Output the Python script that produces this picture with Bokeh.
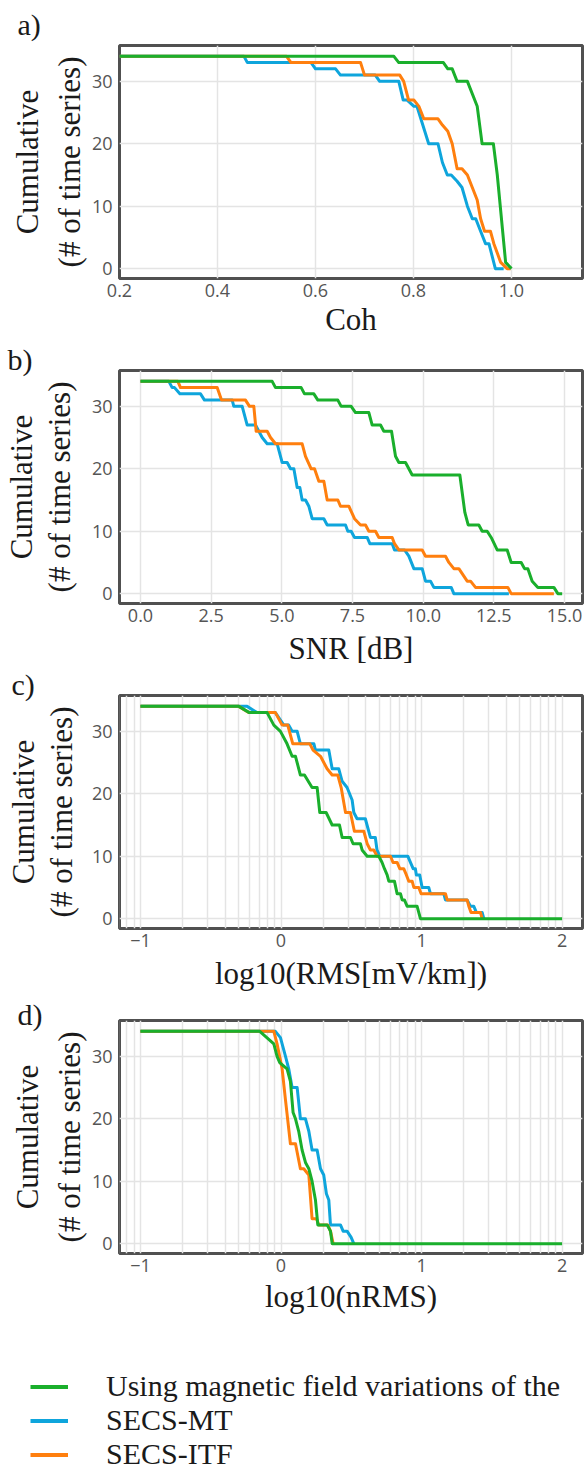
import math
from bokeh.plotting import figure
from bokeh.models import Range1d, FixedTicker, LinearAxis, Legend, LegendItem
from bokeh.layouts import column
from bokeh.embed import file_html
from bokeh.resources import INLINE

# ---------------- data ----------------
series_names = ["Using magnetic field variations of the", "SECS-MT", "SECS-ITF"]

# a) Coh
coh_green_x = [0.2, 0.760, 0.770, 0.861, 0.870, 0.879, 0.889, 0.910, 0.930, 0.940, 0.963, 0.971, 0.988, 1.0]
coh_green_y = [34, 34, 33, 33, 32, 32, 30, 30, 26, 20, 20, 15, 1, 0]
coh_blue_x = [0.2, 0.454, 0.461, 0.591, 0.600, 0.641, 0.651, 0.722, 0.731, 0.770, 0.779, 0.787, 0.801, 0.807,
              0.831, 0.850, 0.859, 0.869, 0.877, 0.889, 0.899, 0.910, 0.920, 0.927, 0.937, 0.947, 0.954, 0.967, 0.984]
coh_blue_y = [34, 34, 33, 33, 32, 32, 31, 31, 30, 30, 27, 27, 26, 26, 20, 20, 17, 15, 15, 14, 13, 10, 8, 8, 6, 4, 4, 0, 0]
coh_orange_x = [0.2, 0.541, 0.550, 0.692, 0.700, 0.772, 0.780, 0.790, 0.801, 0.811, 0.821, 0.850, 0.859, 0.870,
                0.879, 0.889, 0.899, 0.910, 0.920, 0.930, 0.937, 0.945, 0.957, 0.964, 0.978, 0.991, 0.998]
coh_orange_y = [34, 34, 33, 33, 31, 31, 30, 27, 27, 26, 24, 24, 23, 22, 20, 16, 16, 15, 13, 11, 8, 6, 6, 4, 1, 0, 0]

# b) SNR [dB]
snr_green_x = [0, 4.658, 4.776, 5.684, 5.802, 6.132, 6.274, 6.981, 7.099, 7.453, 7.606, 8.078, 8.196, 8.491,
               8.608, 8.880, 9.021, 9.139, 9.375, 9.611, 11.297, 11.474, 11.592, 11.969, 12.087, 12.264, 12.406,
               12.618, 12.972, 13.113, 13.467, 13.585, 13.703, 13.856, 14.057, 14.623, 14.764, 14.917]
snr_green_y = [34, 34, 33, 33, 32, 32, 31, 31, 30, 30, 29, 29, 27, 27, 26, 26, 22, 21, 21, 19, 19, 13, 11, 11,
               10, 10, 9, 7, 7, 5, 5, 4, 4, 2, 1, 1, 0, 0]
snr_blue_x = [0, 1.002, 1.120, 1.203, 1.392, 2.123, 2.264, 3.243, 3.302, 3.597, 3.774, 4.068, 4.186, 4.304,
              4.481, 4.835, 5.012, 5.189, 5.307, 5.425, 5.542, 5.637, 5.719, 5.837, 5.955, 6.073, 6.486, 6.604,
              7.252, 7.335, 7.453, 7.571, 8.019, 8.113, 8.903, 8.986, 9.340, 9.493, 9.670, 9.965, 10.083,
              10.259, 10.377, 10.991, 11.085, 13.031]
snr_blue_y = [34, 34, 33, 33, 32, 32, 31, 31, 30, 30, 27, 27, 26, 25, 24, 24, 21, 21, 20, 20, 17, 17, 15, 15,
              14, 12, 12, 11, 11, 10, 10, 9, 9, 8, 8, 7, 7, 6, 4, 4, 2, 2, 1, 1, 0, 0]
snr_orange_x = [0, 1.321, 1.415, 2.712, 2.866, 3.715, 3.856, 4.009, 4.092, 4.481, 4.599, 4.776, 5.719, 5.837,
                6.038, 6.156, 6.309, 6.486, 6.604, 6.981, 7.075, 7.370, 7.571, 7.783, 7.960, 8.078, 8.314,
                8.432, 8.903, 8.986, 9.139, 9.965, 10.083, 10.790, 10.908, 11.085, 11.262, 11.557, 11.675,
                11.851, 12.995, 13.113, 14.623]
snr_orange_y = [34, 34, 33, 33, 31, 31, 30, 30, 26, 26, 25, 24, 24, 22, 20, 20, 18, 18, 15, 15, 14, 14, 12,
                11, 11, 10, 10, 9, 9, 8, 7, 7, 6, 6, 5, 4, 4, 2, 2, 1, 1, 0, 0]

# c) log10(RMS[mV/km])
rms_green_x = [-1, -0.300, -0.225, -0.099, -0.051, -0.004, 0.043, 0.079, 0.103, 0.138, 0.167, 0.221, 0.257,
               0.276, 0.321, 0.364, 0.416, 0.435, 0.494, 0.513, 0.565, 0.577, 0.613, 0.696, 0.719, 0.736,
               0.755, 0.767, 0.807, 0.826, 0.850, 0.862, 0.878, 0.897, 0.968, 0.992, 2.0]
rms_green_y = [34, 34, 33, 33, 31, 30, 28, 26, 26, 23, 23, 21, 21, 17, 17, 15, 15, 13, 13, 12, 12, 11, 10,
               10, 9, 8, 7, 6, 6, 4, 4, 3, 3, 2, 2, 0, 0]
rms_blue_x = [-1, -0.241, -0.170, -0.040, 0.020, 0.055, 0.079, 0.115, 0.138, 0.234, 0.245, 0.340, 0.364,
              0.411, 0.435, 0.470, 0.506, 0.518, 0.541, 0.600, 0.612, 0.636, 0.671, 0.683, 0.702, 0.902,
              0.921, 0.940, 0.956, 0.963, 0.987, 1.004, 1.051, 1.063, 1.158, 1.170, 1.324, 1.348, 1.371,
              1.390, 1.431, 1.443]
rms_blue_y = [34, 34, 33, 33, 31, 31, 30, 30, 28, 28, 27, 27, 24, 24, 22, 21, 19, 17, 16, 16, 15, 13, 13,
              11, 10, 10, 9, 8, 8, 7, 7, 5, 5, 4, 4, 3, 3, 2, 2, 1, 1, 0]
rms_orange_x = [-1, -0.30, -0.23, -0.040, 0.008, 0.048, 0.084, 0.205, 0.228, 0.281, 0.328, 0.364, 0.404,
                0.428, 0.459, 0.494, 0.522, 0.589, 0.613, 0.636, 0.660, 0.684, 0.779, 0.797, 0.826, 0.845,
                0.873, 0.892, 0.909, 0.933, 0.945, 0.980, 0.997, 1.170, 1.182, 1.324, 1.336, 1.352, 1.419, 1.431]
rms_orange_y = [34, 34, 33, 33, 31, 31, 28, 28, 27, 26, 24, 23, 23, 21, 17, 17, 14, 14, 12, 11, 11, 10, 10,
                9, 9, 8, 8, 7, 6, 6, 5, 5, 4, 4, 3, 3, 2, 1, 1, 0]

# d) log10(nRMS)
nrms_green_x = [-1, -0.151, -0.051, -0.028, -0.009, 0.043, 0.067, 0.086, 0.103, 0.126, 0.150, 0.174, 0.198,
                0.221, 0.245, 0.262, 0.328, 0.352, 0.364, 2.0]
nrms_green_y = [34, 34, 32, 30, 29, 28, 26, 21, 20, 18, 15, 13, 12, 10, 7, 3, 3, 2, 0, 0]
nrms_blue_x = [-1, -0.040, -0.004, 0.032, 0.055, 0.079, 0.115, 0.138, 0.174, 0.198, 0.221, 0.257, 0.281,
               0.304, 0.323, 0.340, 0.352, 0.423, 0.442, 0.470, 0.499, 0.518]
nrms_blue_y = [34, 34, 33, 30, 28, 25, 25, 20, 20, 18, 15, 15, 12, 11, 8, 7, 3, 3, 2, 2, 1, 0]
nrms_orange_x = [-1, -0.051, -0.028, 0.008, 0.032, 0.067, 0.103, 0.138, 0.162, 0.198, 0.221, 0.252, 0.269,
                 0.333, 0.352, 0.371]
nrms_orange_y = [34, 34, 32, 28, 23, 16, 16, 12, 12, 11, 4, 4, 3, 3, 2, 0]

# ticks
y_ticks = [0, 10, 20, 30]
coh_ticks = [0.2, 0.4, 0.6, 0.8, 1.0]
coh_tick_labels = ["0.2", "0.4", "0.6", "0.8", "1.0"]
snr_ticks = [0, 2.5, 5, 7.5, 10, 12.5, 15]
snr_tick_labels = ["0.0", "2.5", "5.0", "7.5", "10.0", "12.5", "15.0"]
log_ticks = [-1, 0, 1, 2]
log_tick_labels = ["\u22121", "0", "1", "2"]
log_minor_ticks = [d + math.log10(k) for d in (-2, -1, 0, 1) for k in range(2, 10)]

# ---------------- styling ----------------
GREEN = "#1aaf2c"
BLUE = "#0ea5dc"
ORANGE = "#ff7f0e"
SERIF = "Liberation Serif"
TXT = "#1a1a1a"
GRID = "#e4e4e4"
W = 584


def style_label(ax, size="31px"):
    ax.axis_label_text_font = SERIF
    ax.axis_label_text_font_size = size
    ax.axis_label_text_font_style = "normal"
    ax.axis_label_text_color = TXT


def panel(height, top, bottom, xr, ticks, labels, minor, lines, letter, letter_offset, letter_standoff,
          ystand, xlabel, xstand):
    p = figure(width=W, height=height, output_backend="svg", toolbar_location=None,
               x_range=Range1d(*xr), y_range=Range1d(-1.58, 35.74), title=letter,
               min_border_left=119, min_border_right=2, min_border_top=top, min_border_bottom=bottom)
    p.background_fill_color = "white"
    p.border_fill_color = "white"
    p.outline_line_color = "#505050"
    p.outline_line_width = 3
    # panel letter
    p.title.align = "left"
    p.title.offset = letter_offset
    p.title.standoff = letter_standoff
    p.title.text_font = SERIF
    p.title.text_font_size = "30px"
    p.title.text_font_style = "normal"
    p.title.text_color = TXT
    # axes
    p.xaxis.ticker = FixedTicker(ticks=ticks, minor_ticks=minor)
    p.yaxis.ticker = FixedTicker(ticks=y_ticks)
    p.xaxis.major_label_overrides = {t: s for t, s in zip(ticks, labels)}
    for ax in (p.xaxis[0], p.yaxis[0]):
        ax.axis_line_color = None
        ax.major_tick_line_color = None
        ax.minor_tick_line_color = None
        ax.major_tick_out = 0
        ax.major_tick_in = 0
        ax.minor_tick_out = 0
        ax.minor_tick_in = 0
        ax.major_label_text_font = "Open Sans"
        ax.major_label_text_font_size = "18px"
        ax.major_label_text_color = "#555555"
        style_label(ax)
    p.xaxis.major_label_standoff = 5
    p.yaxis.major_label_standoff = 7
    p.xaxis.axis_label = xlabel
    p.xaxis.axis_label_standoff = xstand
    p.yaxis.axis_label = "(# of time series)"
    p.yaxis.axis_label_standoff = ystand[0]
    ax2 = LinearAxis(ticker=FixedTicker(ticks=[]), axis_label="Cumulative",
                     axis_line_color=None, major_tick_line_color=None, minor_tick_line_color=None,
                     major_tick_out=0, major_tick_in=0, minor_tick_out=0, minor_tick_in=0,
                     major_label_standoff=0, axis_label_standoff=ystand[1])
    style_label(ax2)
    p.add_layout(ax2, "left")
    # grids
    p.xgrid.grid_line_color = GRID
    p.xgrid.grid_line_width = 1.5
    p.ygrid.grid_line_color = GRID
    p.ygrid.grid_line_width = 1.5
    if minor:
        p.xgrid.minor_grid_line_color = GRID
        p.xgrid.minor_grid_line_width = 1.5
    for (x, y), c in zip(lines, (BLUE, ORANGE, GREEN)):
        p.line(x, y, line_color=c, line_width=3, line_join="round")
    return p


pa = panel(340, 45, 62, (0.2, 1.1449), coh_ticks, coh_tick_labels, [],
           [(coh_blue_x, coh_blue_y), (coh_orange_x, coh_orange_y), (coh_green_x, coh_green_y)],
           "a)", -102, 10, (2, 4), "Coh", 2)
pb = panel(329, 30, 66, (-0.743, 15.636), snr_ticks, snr_tick_labels, [],
           [(snr_blue_x, snr_blue_y), (snr_orange_x, snr_orange_y), (snr_green_x, snr_green_y)],
           "b)", -112, -10, (12, 0), "SNR [dB]", 6)
pc = panel(326, 26, 67, (-1.149, 2.145), log_ticks, log_tick_labels, log_minor_ticks,
           [(rms_blue_x, rms_blue_y), (rms_orange_x, rms_orange_y), (rms_green_x, rms_green_y)],
           "c)", -108, -10, (10, 0), "log10(RMS[mV/km])", 6)
pd_ = panel(344, 25, 86, (-1.149, 2.145), log_ticks, log_tick_labels, log_minor_ticks,
            [(nrms_blue_x, nrms_blue_y), (nrms_orange_x, nrms_orange_y), (nrms_green_x, nrms_green_y)],
            "d)", -102, -20, (2, 4), "log10(nRMS)", 4)

# ---------------- legend (own root so that its frame is not aligned with the panels) ----------------
pl = figure(width=W, height=131, output_backend="svg", toolbar_location=None,
            x_range=Range1d(100, 101), y_range=Range1d(100, 101), x_axis_type=None, y_axis_type=None,
            min_border=0, min_border_left=0, min_border_right=0, min_border_top=0, min_border_bottom=0)
pl.outline_line_color = None
pl.background_fill_color = "white"
pl.border_fill_color = "white"
leg_lines = [(nrms_green_x, nrms_green_y, GREEN), (nrms_blue_x, nrms_blue_y, BLUE), (nrms_orange_x, nrms_orange_y, ORANGE)]
leg_renderers = [pl.line(x, y, line_color=c, line_width=4) for x, y, c in leg_lines]
legend = Legend(items=[LegendItem(label=n, renderers=[r]) for n, r in zip(series_names, leg_renderers)],
                location="top_left", orientation="vertical", glyph_width=38, glyph_height=33,
                label_height=33, label_standoff=38, spacing=0, padding=0, margin=30,
                border_line_color=None, background_fill_alpha=0,
                label_text_font=SERIF, label_text_font_size="30px", label_text_color=TXT)
pl.add_layout(legend)

layout = column(pa, pb, pc, pd_, spacing=0)
open("out.html", "w").write(file_html([layout, pl], INLINE))
